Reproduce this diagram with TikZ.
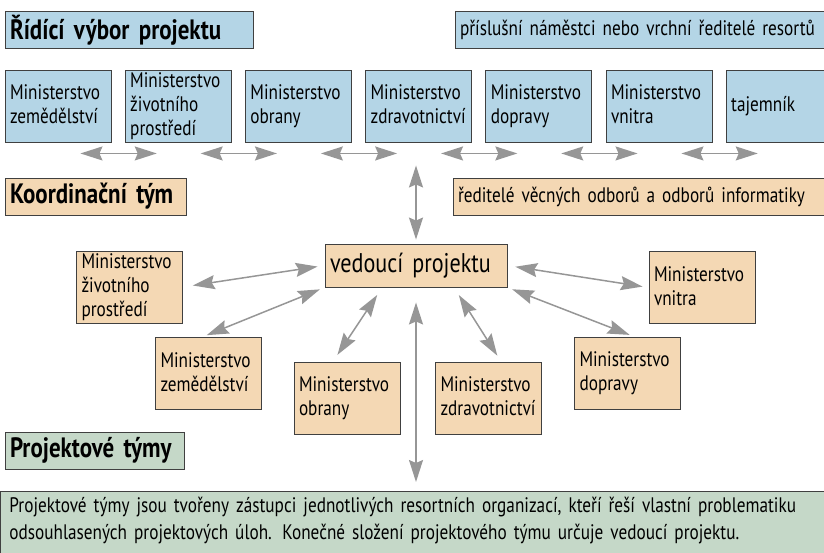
\documentclass[tikz,border=0pt]{standalone}
\usepackage{fontspec}
\setmainfont{PT Sans}[FakeStretch=0.82]
\usetikzlibrary{arrows.meta}
\definecolor{vborblue}{HTML}{B4D5E6}
\definecolor{koortan}{HTML}{F4D8B4}
\definecolor{tymgreen}{HTML}{C5D8C8}
\definecolor{boxline}{HTML}{404040}
\definecolor{arrgray}{HTML}{969696}
\newcommand{\boxfont}{\fontsize{21}{24}\selectfont}
\newcommand{\headfont}{\fontsize{28}{30}\selectfont\bfseries}

\begin{document}
\begin{tikzpicture}[x=1pt,y=-1pt,
	minbox/.style={draw=boxline,line width=0.9pt,minimum width=106pt,minimum height=72pt,
		text width=96pt,inner xsep=5pt,inner ysep=0pt,align=left,font=\boxfont,
		execute at end node={\rule[-3pt]{0pt}{3pt}}},
	headbox/.style={draw=boxline,line width=0.9pt,minimum height=37pt,inner xsep=5pt,
		inner ysep=0pt,align=left,font=\headfont},
	notebox/.style={draw=boxline,line width=0.9pt,minimum height=37pt,inner xsep=5pt,
		inner ysep=0pt,align=left,font=\boxfont},
	arr/.style={draw=arrgray,line width=1.5pt,{Stealth[length=22pt,width=14pt,inset=3pt]}-{Stealth[length=22pt,width=14pt,inset=3pt]}}]
		\useasboundingbox (0,0) rectangle (824,552);
		% ridici vybor
		\node[headbox,fill=vborblue,text width=238pt] (rvp) at (129,30) {Řídící výbor projektu};
		\node[notebox,fill=vborblue,text width=360pt] (rvpnote) at (640,30) {příslušní náměstci nebo vrchní ředitelé resortů};
		\node[minbox,fill=vborblue] (rze) at (58,106) {Ministerstvo\\zemědělství};
		\node[minbox,fill=vborblue] (rzp) at (178.2,106) {Ministerstvo\\životního\\prostředí};
		\node[minbox,fill=vborblue] (rob) at (298.4,106) {Ministerstvo\\obrany};
		\node[minbox,fill=vborblue] (rzd) at (418.6,106) {Ministerstvo\\zdravotnictví};
		\node[minbox,fill=vborblue] (rdo) at (538.8,106) {Ministerstvo\\dopravy};
		\node[minbox,fill=vborblue] (rvn) at (659,106) {Ministerstvo\\vnitra};
		\node[minbox,fill=vborblue] (rta) at (779.2,106) {tajemník};
		\draw[arr] ([xshift=-31pt,yshift=-11pt]rze.south east) -- ([xshift=32pt,yshift=-11pt]rzp.south west);
		\draw[arr] ([xshift=-31pt,yshift=-11pt]rzp.south east) -- ([xshift=32pt,yshift=-11pt]rob.south west);
		\draw[arr] ([xshift=-31pt,yshift=-11pt]rob.south east) -- ([xshift=32pt,yshift=-11pt]rzd.south west);
		\draw[arr] ([xshift=-31pt,yshift=-11pt]rzd.south east) -- ([xshift=32pt,yshift=-11pt]rdo.south west);
		\draw[arr] ([xshift=-31pt,yshift=-11pt]rdo.south east) -- ([xshift=32pt,yshift=-11pt]rvn.south west);
		\draw[arr] ([xshift=-31pt,yshift=-11pt]rvn.south east) -- ([xshift=32pt,yshift=-11pt]rta.south west);
		% koordinacni tym
		\node[headbox,fill=koortan,text width=171pt] (kt) at (95.5,196.5) {Koordinační tým};
		\node[notebox,fill=koortan,text width=362pt] (ktnote) at (639,196.5) {ředitelé věcných odborů a odborů informatiky};
		\node[draw=boxline,line width=0.9pt,fill=koortan,minimum width=182pt,minimum height=43pt,
			inner xsep=5pt,text width=172pt,align=left,font=\fontsize{27}{30}\selectfont] (ved) at (416,265.5) {vedoucí projektu};
		\node[minbox,fill=koortan] (kzp) at (129.5,287) {Ministerstvo\\životního\\prostředí};
		\node[minbox,fill=koortan] (kvn) at (702,287.5) {Ministerstvo\\vnitra};
		\node[minbox,fill=koortan] (kze) at (208.5,373.5) {Ministerstvo\\zemědělství};
		\node[minbox,fill=koortan] (kob) at (347,398) {Ministerstvo\\obrany};
		\node[minbox,fill=koortan] (kzd) at (488.5,398) {Ministerstvo\\zdravotnictví};
		\node[minbox,fill=koortan] (kdo) at (627.5,373.5) {Ministerstvo\\dopravy};
		\draw[arr,shorten <=23pt,shorten >=4pt] (ved.north |- rzd.south) -- (ved.north);
		\draw[arr,shorten <=7pt,shorten >=10pt] (ved.west) -- (kzp.east);
		\draw[arr,shorten <=5pt,shorten >=5pt] (ved.south west) -- (kze.100);
		\draw[arr,shorten <=9pt,shorten >=8pt] (ved.-147) -- (kob.111);
		\draw[arr,shorten <=9pt,shorten >=7pt] (ved.-30) -- (kzd.71);
		\draw[arr,shorten <=5pt,shorten >=6pt] (ved.south east) -- (kdo.78);
		\draw[arr,shorten <=8pt,shorten >=6pt] (ved.east) -- (kvn.west);
		% projektove tymy
		\node[headbox,fill=tymgreen,text width=169pt] (pt) at (94.5,450.5) {Projektové týmy};
		\node[notebox,fill=tymgreen,anchor=north west,text width=806pt,inner xsep=9pt,inner ysep=6pt,
			font=\fontsize{21}{27}\selectfont] (ptnote) at (0,491) {Projektové týmy jsou tvořeny zástupci jednotlivých resortních organizací, kteří řeší vlastní problematiku\\odsouhlasených projektových úloh. Konečné složení projektového týmu určuje vedoucí projektu.\rule[-20pt]{0pt}{20pt}};
		\draw[arr,shorten <=15pt,shorten >=9pt] (ved.south) -- (ved.south |- ptnote.north);
\end{tikzpicture}
\end{document}
